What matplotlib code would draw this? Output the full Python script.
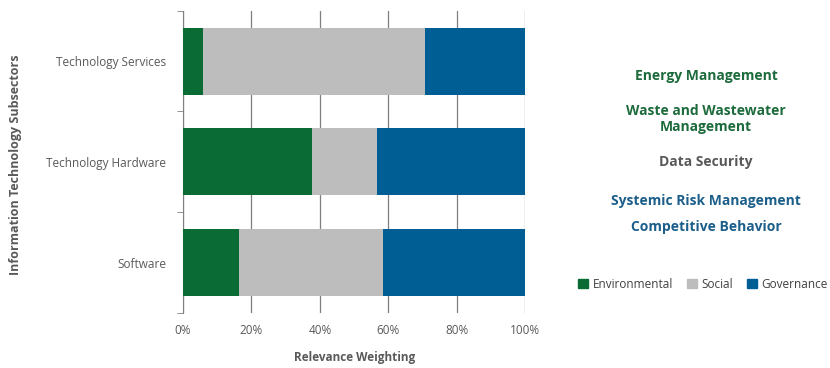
import numpy as np
import matplotlib.pyplot as plt
from matplotlib.patches import Patch

plt.rcParams['font.family'] = ['Open Sans', 'DejaVu Sans']

# data (bottom to top)
subsectors = ["Software", "Technology Hardware", "Technology Services"]
environmental = [16.5, 37.6, 5.8]
social = [41.9, 19.0, 65.0]
governance = [41.6, 43.4, 29.2]
categories = ["Environmental", "Social", "Governance"]
colors = ["#0b6b35", "#bdbdbd", "#005e95"]
xticks = [0, 20, 40, 60, 80, 100]

# issue labels on the right: (text, category index)
issues = [
    ("Energy Management", 0),
    ("Waste and Wastewater\nManagement", 0),
    ("Data Security", 1),
    ("Systemic Risk Management", 2),
    ("Competitive Behavior", 2),
]
issue_y = [76, 119, 162, 201, 227]
issue_colors = ["#1d6b3c", "#595959", "#1c5f8b"]

txt = "#595959"

fig = plt.figure(figsize=(8.3, 3.68), dpi=100)
ax = fig.add_axes([183 / 830, 1 - 313 / 368, (525.3 - 183) / 830, (313 - 10.7) / 368])

y = np.arange(len(subsectors))
left = np.zeros(len(subsectors))
for vals, col, name in zip([environmental, social, governance], colors, categories):
    ax.barh(y, vals, left=left, height=0.665, color=col, label=name, zorder=3)
    left += np.array(vals)

ax.set_xlim(0, 100)
ax.set_ylim(-0.5, 2.5)
ax.set_xticks(xticks)
ax.set_xticklabels([f"{v}%" for v in xticks], color=txt, fontsize=8.5)
ax.set_yticks(y)
ax.set_yticklabels(subsectors, color=txt, fontsize=8.5)
ax.set_yticks([-0.5, 0.5, 1.5, 2.5], minor=True)
ax.tick_params(axis='y', which='major', length=0, pad=12)
ax.tick_params(axis='y', which='minor', length=4, color="#808080")
ax.tick_params(axis='x', length=0, pad=8)
ax.grid(axis='x', color="#7f7f7f", linewidth=0.9, zorder=0)

for s in ['top', 'right', 'bottom']:
    ax.spines[s].set_visible(False)
ax.spines['left'].set_color("#808080")

ax.set_xlabel("Relevance Weighting", color=txt, fontsize=8.5, fontweight='bold', labelpad=10)
fig.text(16 / 830, 1 - 165 / 368, "Information Technology Subsectors", rotation=90,
         color=txt, fontsize=9, fontweight='bold', ha='center', va='center')

for (label, ci), yy in zip(issues, issue_y):
    fig.text(706 / 830, 1 - yy / 368, label, color=issue_colors[ci], fontsize=10,
             fontweight='bold', ha='center', va='center', linespacing=1.15)

handles = [Patch(color=c, label=n) for c, n in zip(colors, categories)]
fig.legend(handles=handles, loc='center', bbox_to_anchor=(703 / 830, 1 - 284 / 368), ncol=3,
           frameon=False, fontsize=8.5, handlelength=0.8, handleheight=0.8,
           handletextpad=0.4, columnspacing=1.2, labelcolor="#404040")

fig.savefig("out.png", dpi=100)
